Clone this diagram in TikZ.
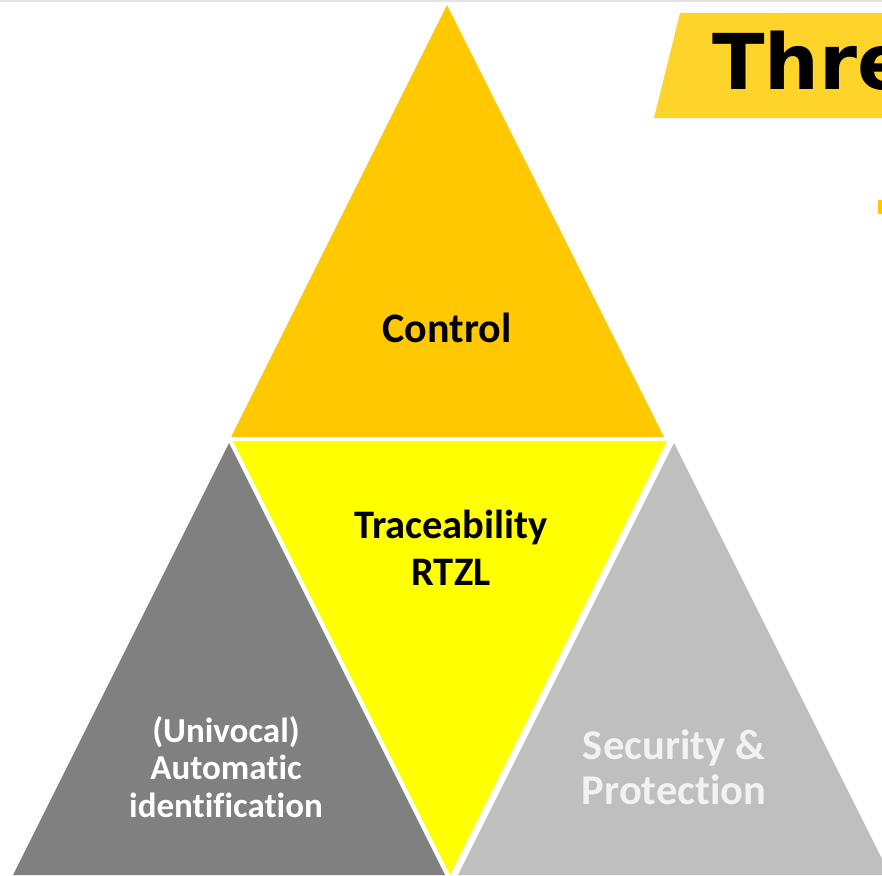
\documentclass[tikz,border=0pt]{standalone}
\usepackage{fontspec}
\setmainfont{Carlito}[Ligatures=CommonOff]
\newfontfamily\titlefont{DejaVu Sans}
\usepackage{xcolor}
\usetikzlibrary{positioning,calc}

\definecolor{ctrlorange}{HTML}{FFC800}
\definecolor{traceyellow}{HTML}{FFFF00}
\definecolor{darkgrey}{HTML}{808080}
\definecolor{lightgrey}{HTML}{BFBFBF}
\definecolor{titleyellow}{HTML}{FFD42A}
\definecolor{rulegrey}{HTML}{E3E3E3}
\definecolor{paletext}{HTML}{F2F2F2}

\tikzset{
  lbl/.style={align=center, inner sep=0pt, font=\bfseries},
}

\begin{document}
\begin{tikzpicture}[x=1pt,y=-1pt]
  \useasboundingbox (0,0) rectangle (882,875);
  \clip (0,0) rectangle (882,875);
  \fill[white] (0,0) rectangle (882,875);
  \fill[rulegrey] (0,0) rectangle (882,2);

  % the four triangles
  \coordinate(ctop) at (447,5);
  \coordinate(dtop) at (229,443);
  \coordinate(ltop) at (674,443);
  \coordinate(tbot) at (450,875);

  \fill[ctrlorange] (ctop) -- (664,437) -- (231,437) -- cycle;
  \fill[traceyellow] (233,441) -- (667,441) -- (tbot) -- cycle;
  \fill[darkgrey] (dtop) -- ($(dtop)+(216,432)$) -- ($(dtop)+(-216,432)$) -- cycle;
  \fill[lightgrey] (ltop) -- ($(ltop)+(216,432)$) -- ($(ltop)+(-216,432)$) -- cycle;

  % title band, cut at the border
  \fill[titleyellow] (680,13) -- (900,13) -- (900,118) -- (654,118) -- cycle;
  \node(title)[anchor=base west, inner sep=0pt,
               font=\titlefont\bfseries\fontsize{77}{80}\selectfont]
    at (712,89) {Three};
  \fill[ctrlorange] (878,200) rectangle (886,214);

  \node(ctrl)[lbl, font=\bfseries\fontsize{42}{45}\selectfont]
    at (447,328) {Control};

  \node(trace)[lbl, font=\bfseries\fontsize{40.5}{45}\selectfont]
    at (451,527) {Traceability};
  \node(rtzl)[lbl, font=\bfseries\fontsize{40.5}{45}\selectfont,
              below=0 of trace.center, anchor=center, yshift=-45pt]
    {RTZL};

  \node(autoid)[lbl, text=white,
                font=\bfseries\fontsize{35}{37.5}\selectfont]
    at (226,767) {(Univocal)\\Automatic\\identification};

  \node(secur)[lbl, text=paletext,
               font=\bfseries\fontsize{42.5}{45}\selectfont]
    at (674,767) {Security \&\\Protection};

\end{tikzpicture}
\end{document}
